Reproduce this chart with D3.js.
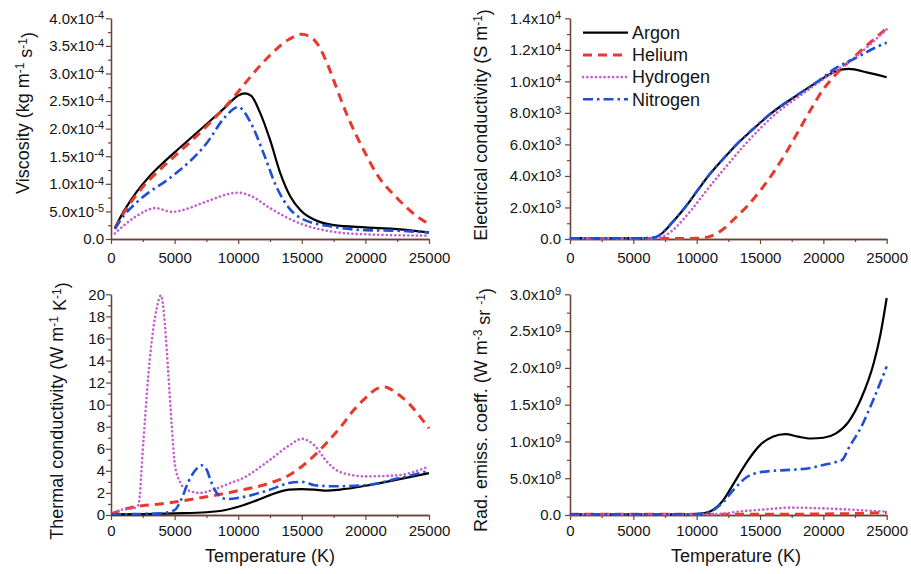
<!DOCTYPE html>
<html>
<head>
<meta charset="utf-8">
<script src="https://cdn.jsdelivr.net/npm/d3@7"></script>
<style>
  html, body { margin: 0; padding: 0; background: #fff; }
  svg { display: block; font-family: "Liberation Sans", Arial, sans-serif; }
</style>
</head>
<body>
<svg id="chart" width="911" height="574"></svg>
<script>
// ---------------- DATA ----------------
const seriesNames = ["Argon", "Helium", "Hydrogen", "Nitrogen"];
const xTicks = [0, 5000, 10000, 15000, 20000, 25000];
const xMinorTicks = [2500, 7500, 12500, 17500, 22500];

// Viscosity (kg m-1 s-1)
const viscTicks = [0, 5e-5, 1e-4, 1.5e-4, 2e-4, 2.5e-4, 3e-4, 3.5e-4, 4e-4];
const viscTickLabels = ["0.0", "5.0x10^{-5}", "1.0x10^{-4}", "1.5x10^{-4}", "2.0x10^{-4}", "2.5x10^{-4}", "3.0x10^{-4}", "3.5x10^{-4}", "4.0x10^{-4}"];
const viscArgon = [[300,2.0e-5],[1000,5.0e-5],[2000,8.5e-5],[3000,1.13e-4],[4000,1.36e-4],[5000,1.57e-4],[7500,2.08e-4],[9000,2.39e-4],[10000,2.6e-4],[10500,2.64e-4],[11000,2.6e-4],[11700,2.3e-4],[12500,1.8e-4],[13300,1.2e-4],[14100,7.7e-5],[14900,5.2e-5],[16400,3.1e-5],[17500,2.5e-5],[20000,2.1e-5],[22500,1.8e-5],[25000,1.2e-5]];
const viscHelium = [[300,1.9e-5],[1000,4.7e-5],[2000,8.0e-5],[3000,1.07e-4],[4000,1.29e-4],[5000,1.5e-4],[7500,2.04e-4],[9000,2.4e-4],[10000,2.67e-4],[11000,2.95e-4],[12500,3.33e-4],[14000,3.62e-4],[15000,3.71e-4],[16000,3.6e-4],[17000,3.18e-4],[17500,2.88e-4],[18500,2.28e-4],[20000,1.55e-4],[21000,1.14e-4],[22500,7.4e-5],[24000,4.2e-5],[25000,2.7e-5]];
const viscHydrogen = [[300,1.0e-5],[1900,4.0e-5],[3500,5.6e-5],[4800,4.9e-5],[6000,5.5e-5],[7500,6.8e-5],[10000,8.4e-5],[11000,7.8e-5],[12500,5.6e-5],[15000,2.7e-5],[17500,1.3e-5],[20000,8.5e-6],[25000,6e-6]];
const viscNitrogen = [[300,1.8e-5],[1000,4.2e-5],[2000,6.6e-5],[3000,8.5e-5],[4250,1.04e-4],[5000,1.17e-4],[7500,1.73e-4],[9000,2.22e-4],[10000,2.39e-4],[11000,2.1e-4],[12000,1.55e-4],[13000,9.5e-5],[14000,5.6e-5],[15000,3.7e-5],[17500,2.2e-5],[20000,1.6e-5],[22500,1.5e-5],[25000,1.15e-5]];

// Electrical conductivity (S m-1)
const elecTicks = [0, 2000, 4000, 6000, 8000, 10000, 12000, 14000];
const elecTickLabels = ["0.0", "2.0x10^{3}", "4.0x10^{3}", "6.0x10^{3}", "8.0x10^{3}", "1.0x10^{4}", "1.2x10^{4}", "1.4x10^{4}"];
const elecArgon = [[0,50],[5500,50],[6300,60],[6800,130],[7300,380],[7800,800],[8300,1250],[9080,2000],[10000,3000],[10920,4000],[12000,5000],[13160,6000],[14500,7000],[15920,8000],[17700,9000],[19600,10000],[21000,10650],[22000,10790],[23500,10550],[25000,10260]];
const elecHelium = [[0,30],[9500,30],[10000,40],[11000,150],[12000,570],[13000,1300],[14000,2100],[15000,3050],[16000,4150],[17000,5400],[18000,6800],[19000,8200],[20000,9500],[21000,10450],[22500,11600],[25000,13370]];
const elecHydrogen = [[0,50],[6500,50],[7000,80],[7500,220],[8000,480],[8500,850],[9000,1300],[9740,2000],[10700,3000],[11710,4000],[12750,5000],[13820,6000],[15000,7000],[16320,8000],[18000,9000],[19740,10000],[22500,11530],[25000,13300]];
const elecNitrogen = [[0,50],[5500,50],[6300,60],[6800,135],[7300,390],[7800,810],[8300,1260],[9080,2010],[10000,3010],[10920,4010],[12000,5010],[13160,6010],[14500,7010],[15920,8010],[17700,9010],[19600,10020],[21000,10850],[22500,11460],[24000,12100],[25000,12460]];

// Thermal conductivity (W m-1 K-1)
const thermTicks = [0, 2, 4, 6, 8, 10, 12, 14, 16, 18, 20];
const thermTickLabels = ["0", "2", "4", "6", "8", "10", "12", "14", "16", "18", "20"];
const thermArgon = [[0,0.05],[2500,0.08],[5000,0.15],[7500,0.25],[9000,0.45],[10000,0.75],[11500,1.35],[12500,1.8],[14000,2.3],[15000,2.35],[16000,2.3],[17000,2.2],[18000,2.3],[20000,2.65],[22500,3.2],[25000,3.8]];
const thermHelium = [[0,0.1],[1000,0.5],[2500,0.85],[3850,1.0],[5160,1.2],[7500,1.65],[10000,2.2],[12500,2.9],[14000,3.6],[15000,4.4],[16000,5.4],[17000,6.6],[18000,7.9],[19000,9.4],[20000,10.6],[21000,11.5],[21500,11.6],[22500,11.0],[23500,10.0],[24500,8.6],[25000,7.85]];
const thermHydrogen = [[300,0.1],[700,0.45],[1750,0.6],[2150,0.9],[2540,6.6],[2935,12.7],[3330,16.9],[3590,18.7],[3930,19.9],[4245,17.2],[4510,12.7],[4770,8.2],[5030,4.5],[5420,3.0],[5950,2.3],[7000,2.0],[8050,2.3],[9620,3.0],[10000,3.15],[12500,5.0],[14000,6.3],[15000,6.9],[16000,6.3],[17000,4.8],[18000,3.9],[20000,3.5],[22500,3.6],[25000,4.4]];
const thermNitrogen = [[0,0.05],[2500,0.1],[4000,0.15],[5000,0.45],[5560,1.5],[6080,3.0],[6735,4.2],[7130,4.5],[7520,4.1],[7910,2.9],[8310,2.0],[9090,1.45],[10000,1.55],[12500,2.3],[14000,2.9],[15000,3.0],[16000,2.7],[17500,2.6],[20000,2.7],[22500,3.3],[25000,4.0]];

// Radiative emission coefficient (W m-3 sr-1)
const radTicks = [0, 5e8, 1e9, 1.5e9, 2e9, 2.5e9, 3e9];
const radTickLabels = ["0.0", "5.0x10^{8}", "1.0x10^{9}", "1.5x10^{9}", "2.0x10^{9}", "2.5x10^{9}", "3.0x10^{9}"];
const radArgon = [[0,0.01e9],[9500,0.01e9],[10000,0.012e9],[11000,0.045e9],[12000,0.18e9],[13000,0.45e9],[14000,0.73e9],[15000,0.95e9],[16000,1.065e9],[17000,1.10e9],[18000,1.065e9],[19000,1.04e9],[20000,1.05e9],[21000,1.11e9],[22000,1.27e9],[23000,1.59e9],[24000,2.08e9],[24500,2.45e9],[25000,2.95e9]];
const radHelium = [[0,0.01e9],[17000,0.01e9],[20000,0.015e9],[22500,0.02e9],[25000,0.035e9]];
const radHydrogen = [[0,0.01e9],[11000,0.01e9],[12000,0.015e9],[13000,0.04e9],[15000,0.07e9],[17500,0.1e9],[20000,0.09e9],[22500,0.07e9],[25000,0.045e9]];
const radNitrogen = [[0,0.01e9],[9500,0.01e9],[10000,0.012e9],[11000,0.04e9],[12000,0.16e9],[13000,0.36e9],[14000,0.52e9],[15000,0.58e9],[16000,0.6e9],[17000,0.61e9],[18000,0.62e9],[19000,0.64e9],[20000,0.68e9],[21000,0.72e9],[21500,0.75e9],[22000,0.91e9],[23000,1.2e9],[24000,1.59e9],[25000,2.02e9]];

// ---------------- STYLE ----------------
const styles = {
  Argon:    { color: "#000000", width: 2.2, dash: null, cap: "butt" },
  Helium:   { color: "#e8392d", width: 3.0, dash: "9,6", cap: "butt" },
  Hydrogen: { color: "#c45fd0", width: 2.6, dash: "0.1,4.2", cap: "round" },
  Nitrogen: { color: "#1f4fd2", width: 2.6, dash: "10,4,2.5,4", cap: "butt" }
};
const axisColor = "#6e4236";
const textColor = "#141414";

const panels = [
  { left: 111, right: 429, bottom: 239, top: 18.3, ymax: 4e-4, ticks: viscTicks, labels: viscTickLabels,
    data: [viscArgon, viscHelium, viscHydrogen, viscNitrogen],
    ytitle: "Viscosity (kg m^{-1} s^{-1})", ytx: 23, yty: 113, xtitle: null, xlabPad: 8, ylabPad: 2 },
  { left: 570, right: 886.7, bottom: 239, top: 18.3, ymax: 1.4e4, ticks: elecTicks, labels: elecTickLabels,
    data: [elecArgon, elecHelium, elecHydrogen, elecNitrogen],
    ytitle: "Electrical conductivity (S m^{-1})", ytx: 481, yty: 125, xtitle: null, xlabPad: 8, ylabPad: 4, legend: true },
  { left: 111, right: 429, bottom: 515, top: 294.3, ymax: 20, ticks: thermTicks, labels: thermTickLabels,
    data: [thermArgon, thermHelium, thermHydrogen, thermNitrogen],
    ytitle: "Thermal conductivity (W m^{-1} K^{-1})", ytx: 57, yty: 411, xtitle: "Temperature (K)", xtx: 270, xlabPad: 5.5, ylabPad: 1 },
  { left: 570, right: 886.7, bottom: 515, top: 294.3, ymax: 3e9, ticks: radTicks, labels: radTickLabels,
    data: [radArgon, radHelium, radHydrogen, radNitrogen],
    ytitle: "Rad. emiss. coeff. (W m^{-3} sr ^{-1})", ytx: 481, yty: 410, xtitle: "Temperature (K)", xtx: 736, xlabPad: 5.5, ylabPad: 4 }
];

const svg = d3.select("#chart");

// write "a^{b}c" text as tspans with superscripts
function richText(sel, str, supSize) {
  sel.text(null);
  const parts = str.split(/(\^\{[^}]*\})/).filter(s => s.length);
  let pendingDown = false;
  parts.forEach(p => {
    if (p.startsWith("^{")) {
      sel.append("tspan").attr("dy", "-0.42em").attr("font-size", supSize).text(p.slice(2, -1));
      pendingDown = true;
    } else {
      const t = sel.append("tspan").text(p);
      if (pendingDown) { t.attr("dy", "0.42em"); pendingDown = false; }
    }
  });
}

panels.forEach(p => {
  const x = d3.scaleLinear().domain([0, 25000]).range([p.left, p.right]);
  const y = d3.scaleLinear().domain([0, p.ymax]).range([p.bottom, p.top]);
  const g = svg.append("g");

  const yMinor = [];
  for (let i = 0; i < p.ticks.length - 1; i++) yMinor.push((p.ticks[i] + p.ticks[i + 1]) / 2);

  const xMinorAxis = d3.axisBottom(x).tickValues(xMinorTicks).tickSize(3).tickFormat("").tickSizeOuter(0);
  const yMinorAxis = d3.axisLeft(y).tickValues(yMinor).tickSize(3).tickFormat("").tickSizeOuter(0);
  g.append("g").attr("transform", `translate(0,${p.bottom})`).call(xMinorAxis);
  g.append("g").attr("transform", `translate(${p.left},0)`).call(yMinorAxis);

  const xAxis = d3.axisBottom(x).tickValues(xTicks).tickSize(5).tickSizeOuter(0).tickPadding(p.xlabPad).tickFormat(d3.format("d"));
  const yAxis = d3.axisLeft(y).tickValues(p.ticks).tickSize(5).tickSizeOuter(0).tickPadding(p.ylabPad);
  const gx = g.append("g").attr("transform", `translate(0,${p.bottom})`).call(xAxis);
  const gy = g.append("g").attr("transform", `translate(${p.left},0)`).call(yAxis);

  g.selectAll(".domain").attr("stroke", axisColor).attr("stroke-width", 1.3);
  g.selectAll(".tick line").attr("stroke", axisColor).attr("stroke-width", 1.2);

  gx.selectAll("text").attr("font-size", 15).attr("fill", textColor).attr("font-family", "Liberation Sans, Arial, sans-serif");
  gy.selectAll("text").attr("font-size", 15).attr("fill", textColor).attr("font-family", "Liberation Sans, Arial, sans-serif")
    .each(function(d, i) { richText(d3.select(this), p.labels[i], 11); });

  const line = d3.line().x(d => x(d[0])).y(d => y(d[1])).curve(d3.curveMonotoneX);
  seriesNames.forEach((name, i) => {
    const s = styles[name];
    g.append("path").datum(p.data[i])
      .attr("d", line)
      .attr("fill", "none")
      .attr("stroke", s.color)
      .attr("stroke-width", s.width)
      .attr("stroke-linecap", s.cap)
      .attr("stroke-linejoin", "round")
      .attr("stroke-dasharray", s.dash);
  });

  const yt = svg.append("text")
    .attr("transform", `translate(${p.ytx},${p.yty}) rotate(-90)`)
    .attr("text-anchor", "middle")
    .attr("dy", "0.35em")
    .attr("font-size", 18)
    .attr("fill", textColor);
  richText(yt, p.ytitle, 12);

  if (p.xtitle) {
    svg.append("text")
      .attr("x", p.xtx).attr("y", 562)
      .attr("text-anchor", "middle")
      .attr("font-size", 18)
      .attr("fill", textColor)
      .text(p.xtitle);
  }

  if (p.legend) {
    const lg = svg.append("g");
    seriesNames.forEach((name, i) => {
      const s = styles[name];
      const ly = 32.7 + i * 22.2;
      lg.append("line")
        .attr("x1", 583).attr("x2", 628).attr("y1", ly).attr("y2", ly)
        .attr("stroke", s.color).attr("stroke-width", s.width)
        .attr("stroke-linecap", s.cap)
        .attr("stroke-dasharray", s.dash);
      lg.append("text")
        .attr("x", 632).attr("y", ly).attr("dy", "0.35em")
        .attr("font-size", 18).attr("fill", textColor)
        .text(name);
    });
  }
});
</script>
</body>
</html>
